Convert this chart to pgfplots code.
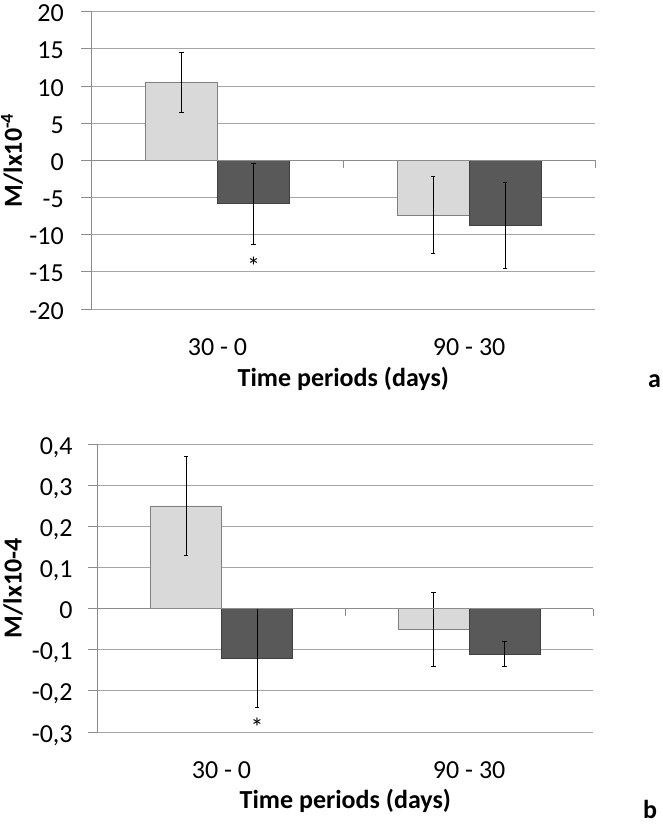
\documentclass[border=0pt]{standalone}
\usepackage{pgfplots}
\pgfplotsset{compat=1.18}
\usepackage{fontspec}
\setmainfont{Carlito}
\definecolor{lightbar}{HTML}{D9D9D9}
\definecolor{lightedge}{HTML}{808080}
\definecolor{darkbar}{HTML}{595959}
\definecolor{darkedge}{HTML}{404040}
\definecolor{gridc}{HTML}{A6A6A6}
\definecolor{axisc}{HTML}{8C8C8C}
\newcommand{\chartfont}{\fontsize{26}{31}\selectfont}

\pgfplotstableread{
x y e
0 10.5 4.05
1 -7.35 5.15
}\topL
\pgfplotstableread{
x y e
0 -5.85 5.4
1 -8.8 5.8
}\topD
\pgfplotstableread{
x y e
0 0.25 0.12
1 -0.05 0.09
}\botL
\pgfplotstableread{
x y e
0 -0.12 0.12
1 -0.11 0.03
}\botD

\pgfplotsset{
  panel/.style={
    scale only axis,
    xmin=-0.5, xmax=1.5,
    axis y line*=left,
    axis x line*=bottom,
    x axis line style={draw=none},
    y axis line style={axisc, line width=0.9pt},
    xtick={0,1},
    xticklabels={30 - 0, 90 - 30},
    xtick style={draw=none},
    ytick pos=left,
    tick align=outside,
    ytick style={axisc, line width=0.9pt},
    ymajorgrids,
    major grid style={gridc, line width=0.9pt},
    tick label style={font=\chartfont},
    yticklabel style={anchor=base east, inner sep=0pt},
    xticklabel style={anchor=base, inner sep=0pt},
    label style={font=\bfseries\chartfont},
    xlabel={Time periods (days)},
    clip=false,
    ybar=0pt,
  },
  errs/.style={
    error bars/.cd, y dir=both, y explicit,
    error bar style={black, line width=0.8pt},
    error mark options={rotate=90, black, mark size=2.2pt, line width=0.8pt},
  },
}

\begin{document}
\begin{tikzpicture}
\useasboundingbox (0pt,0pt) rectangle (662pt,-824pt);

\begin{axis}[panel,
  at={(91.7pt,-11.7pt)}, anchor=north west,
  width=503.3pt, height=297.3pt,
  bar width=72pt,
  ymin=-20, ymax=20,
  ytick={-20,-15,-10,-5,0,5,10,15,20},
  yticklabels={-20,-15,-10,-5,0,5,10,15,20},
  major tick length=10.7pt,
  yticklabel style={xshift=-17pt, yshift=-10pt},
  xticklabel style={yshift=-36pt},
  ylabel={M/lx10\textsuperscript{-4}},
  ylabel style={at={(axis description cs:-0.1385,0.5)}, anchor=base},
  xlabel style={at={(axis description cs:0.5,0)}, anchor=base, yshift=-77pt},
]
\addplot[fill=lightbar, draw=lightedge, line width=0.8pt, errs]
  table[x=x, y=y, y error=e] {\topL};
\addplot[fill=darkbar, draw=darkedge, line width=0.8pt, errs]
  table[x=x, y=y, y error=e] {\topD};
\draw[axisc, line width=0.9pt] (axis cs:-0.5,0) -- (axis cs:1.5,0);
\draw[axisc, line width=0.9pt] (axis cs:0.5,0) -- ++(0pt,-7.7pt);
\draw[axisc, line width=0.9pt] (axis cs:1.5,0) -- ++(0pt,-7.7pt);
\node[anchor=base, font=\chartfont, inner sep=0pt, xshift=36pt] at (axis cs:0,-15.5) {*};
\end{axis}

\begin{axis}[panel,
  at={(97.7pt,-444.3pt)}, anchor=north west,
  width=495.3pt, height=287.7pt,
  bar width=71pt,
  ymin=-0.3, ymax=0.4,
  ytick={-0.3,-0.2,-0.1,0,0.1,0.2,0.3,0.4},
  yticklabels={{-0,3},{-0,2},{-0,1},0,{0,1},{0,2},{0,3},{0,4}},
  major tick length=9.4pt,
  yticklabel style={xshift=-15.5pt, yshift=-10pt},
  xticklabel style={yshift=-37pt},
  ylabel={M/lx10-4},
  ylabel style={at={(axis description cs:-0.1534,0.5)}, anchor=base},
  xlabel style={at={(axis description cs:0.5,0)}, anchor=base, yshift=-76pt},
]
\addplot[fill=lightbar, draw=lightedge, line width=0.8pt, errs]
  table[x=x, y=y, y error=e] {\botL};
\addplot[fill=darkbar, draw=darkedge, line width=0.8pt, errs]
  table[x=x, y=y, y error=e] {\botD};
\draw[axisc, line width=0.9pt] (axis cs:-0.5,0) -- (axis cs:1.5,0);
\draw[axisc, line width=0.9pt] (axis cs:0.5,0) -- ++(0pt,-7.7pt);
\draw[axisc, line width=0.9pt] (axis cs:1.5,0) -- ++(0pt,-7.7pt);
\node[anchor=base, font=\chartfont, inner sep=0pt, xshift=35.5pt] at (axis cs:0,-0.31) {*};
\end{axis}

\node[anchor=base west, font=\bfseries\chartfont, inner sep=0pt] at (648pt,-387pt) {a};
\node[anchor=base west, font=\bfseries\chartfont, inner sep=0pt] at (643pt,-818pt) {b};
\end{tikzpicture}
\end{document}
